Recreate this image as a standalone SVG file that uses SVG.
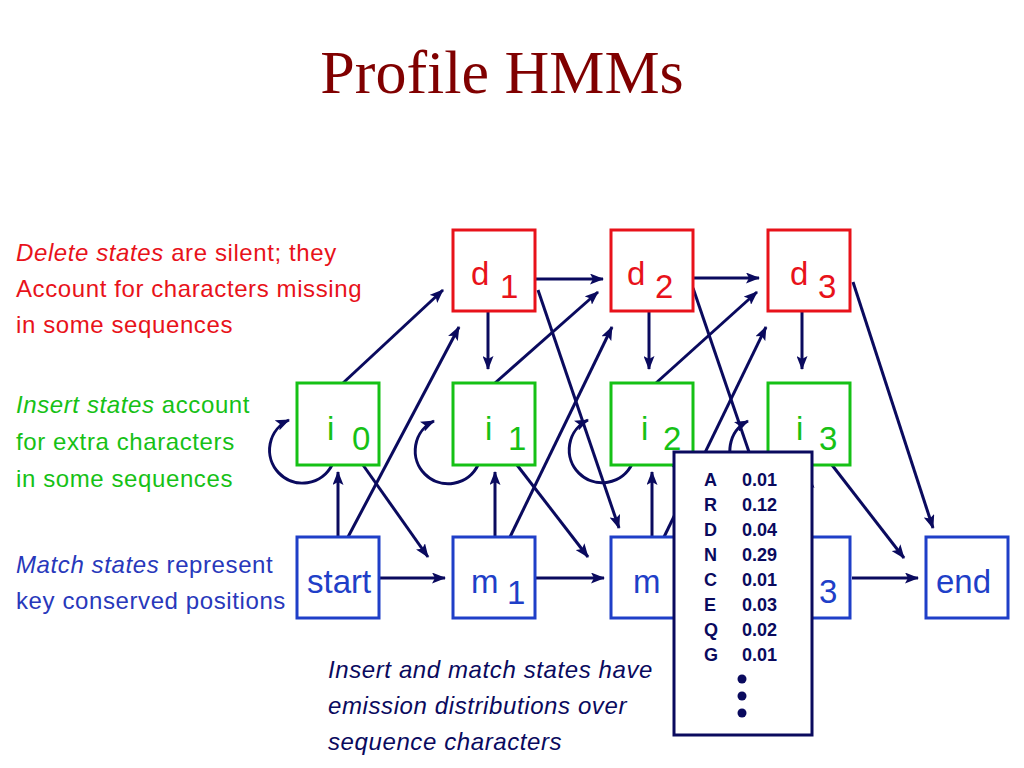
<svg xmlns="http://www.w3.org/2000/svg" width="1024" height="768" viewBox="0 0 1024 768">
<style>
  .t { font-family: "Liberation Sans", Arial, sans-serif; }
  .side { font-size: 24px; letter-spacing: 0.6px; }
  .red { fill: #e8121a; }
  .green { fill: #16c116; }
  .blue { fill: #2838bb; }
  .nb { fill: #1f3fc8; }
  .dbox { fill: #ffffff; stroke: #e8121a; stroke-width: 3; }
  .ibox { fill: #ffffff; stroke: #16c116; stroke-width: 3; }
  .mbox { fill: #ffffff; stroke: #1f3fc8; stroke-width: 3; }
  .lbl { font-size: 33px; }
  .con { stroke: #0a0a5e; stroke-width: 3; fill: none; marker-end: url(#ah); }
  .em { font-size: 18px; font-weight: bold; fill: #0a0a5e; }
</style>
<defs>
  <marker id="ah" markerUnits="userSpaceOnUse" viewBox="0 0 14 11" markerWidth="14" markerHeight="11" refX="13" refY="5.5" orient="auto">
    <path d="M0,0 L14,5.5 L0,11 L3,5.5 z" fill="#0a0a5e"/>
  </marker>
</defs>
<rect width="1024" height="768" fill="#ffffff"/>

<text x="502" y="93" text-anchor="middle" font-family="Liberation Serif, 'Times New Roman', serif" font-size="62" fill="#800000">Profile HMMs</text>

<g id="notes" class="t side">
  <text x="16" y="261" class="red"><tspan font-style="italic">Delete states</tspan> are silent; they</text>
  <text x="16" y="297" class="red">Account for characters missing</text>
  <text x="16" y="333" class="red">in some sequences</text>
  <text x="16" y="413" class="green"><tspan font-style="italic">Insert states</tspan> account</text>
  <text x="16" y="450" class="green">for extra characters</text>
  <text x="16" y="487" class="green">in some sequences</text>
  <text x="16" y="573" class="blue"><tspan font-style="italic">Match states</tspan> represent</text>
  <text x="16" y="609" class="blue">key conserved positions</text>
</g>

<g id="connectors">
  <line class="con" x1="378" y1="578" x2="445" y2="578"/>
  <line class="con" x1="536" y1="578" x2="604" y2="578"/>
  <line class="con" x1="852" y1="578" x2="918" y2="578"/>
  <line class="con" x1="536" y1="279" x2="603" y2="279"/>
  <line class="con" x1="693" y1="278" x2="759" y2="278"/>
  <line class="con" x1="488" y1="311" x2="488" y2="369"/>
  <line class="con" x1="649" y1="311" x2="649" y2="369"/>
  <line class="con" x1="802" y1="311" x2="802" y2="369"/>
  <line class="con" x1="338" y1="537" x2="338" y2="472"/>
  <line class="con" x1="495" y1="537" x2="495" y2="472"/>
  <line class="con" x1="652" y1="537" x2="652" y2="472"/>
  <line class="con" x1="809" y1="537" x2="809" y2="475"/>
  <line class="con" x1="343" y1="383" x2="443" y2="290"/>
  <line class="con" x1="348" y1="537" x2="459" y2="327"/>
  <line class="con" x1="363" y1="465" x2="428" y2="557"/>
  <line class="con" x1="495" y1="383" x2="598" y2="292"/>
  <line class="con" x1="510" y1="537" x2="612" y2="327"/>
  <line class="con" x1="538" y1="290" x2="619" y2="528"/>
  <line class="con" x1="517" y1="465" x2="588" y2="557"/>
  <line class="con" x1="656" y1="383" x2="757" y2="292"/>
  <line class="con" x1="664" y1="537" x2="766" y2="327"/>
  <line class="con" x1="693" y1="288" x2="775" y2="528"/>
  <line class="con" x1="673" y1="465" x2="745" y2="557"/>
  <line class="con" x1="853" y1="282" x2="933" y2="528"/>
  <line class="con" x1="832" y1="465" x2="904" y2="558"/>
  <path class="con" d="M332,465 A33,33 0 1 1 289,420"/>
  <path class="con" d="M478,465 A33,33 0 1 1 434,421"/>
  <path class="con" d="M632,464 A33,33 0 1 1 588,420"/>
  <path class="con" d="M792,466 A33,33 0 1 1 748,421"/>
</g>

<g id="d1"><rect class="dbox" x="453" y="230" width="82" height="81"/><text class="t lbl red" x="471" y="285">d</text><text class="t lbl red" x="500" y="298">1</text></g>
<g id="d2"><rect class="dbox" x="611" y="230" width="82" height="81"/><text class="t lbl red" x="627" y="285">d</text><text class="t lbl red" x="655" y="298">2</text></g>
<g id="d3"><rect class="dbox" x="768" y="230" width="82" height="81"/><text class="t lbl red" x="790" y="285">d</text><text class="t lbl red" x="818" y="298">3</text></g>

<g id="i0"><rect class="ibox" x="297" y="383" width="82" height="82"/><text class="t lbl green" x="327" y="440">i</text><text class="t lbl green" x="352" y="450">0</text></g>
<g id="i1"><rect class="ibox" x="453" y="383" width="82" height="82"/><text class="t lbl green" x="485" y="440">i</text><text class="t lbl green" x="508" y="450">1</text></g>
<g id="i2"><rect class="ibox" x="611" y="383" width="82" height="82"/><text class="t lbl green" x="641" y="440">i</text><text class="t lbl green" x="663" y="450">2</text></g>
<g id="i3"><rect class="ibox" x="768" y="383" width="82" height="82"/><text class="t lbl green" x="796" y="440">i</text><text class="t lbl green" x="819" y="450">3</text></g>

<g id="start"><rect class="mbox" x="297" y="537" width="82" height="81"/><text class="t lbl nb" x="307" y="593">start</text></g>
<g id="m1"><rect class="mbox" x="453" y="537" width="82" height="81"/><text class="t lbl nb" x="471" y="593">m</text><text class="t lbl nb" x="507" y="604">1</text></g>
<g id="m2"><rect class="mbox" x="611" y="537" width="82" height="81"/><text class="t lbl nb" x="633" y="593">m</text></g>
<g id="m3"><rect class="mbox" x="768" y="537" width="82" height="81"/><text class="t lbl nb" x="819" y="603">3</text></g>
<g id="end"><rect class="mbox" x="926" y="537" width="82" height="81"/><text class="t lbl nb" x="936" y="593">end</text></g>

<g id="emission">
  <rect x="674" y="452" width="138" height="283" fill="#ffffff" stroke="#0a0a5e" stroke-width="3"/>
  <g class="t em">
    <text x="704" y="486">A</text><text x="742" y="486">0.01</text>
    <text x="704" y="511">R</text><text x="742" y="511">0.12</text>
    <text x="704" y="536">D</text><text x="742" y="536">0.04</text>
    <text x="704" y="561">N</text><text x="742" y="561">0.29</text>
    <text x="704" y="586">C</text><text x="742" y="586">0.01</text>
    <text x="704" y="611">E</text><text x="742" y="611">0.03</text>
    <text x="704" y="636">Q</text><text x="742" y="636">0.02</text>
    <text x="704" y="661">G</text><text x="742" y="661">0.01</text>
  </g>
  <circle cx="742" cy="679" r="4.5" fill="#0a0a5e"/>
  <circle cx="742" cy="696" r="4.5" fill="#0a0a5e"/>
  <circle cx="742" cy="713" r="4.5" fill="#0a0a5e"/>
</g>

<g id="caption" class="t side" font-style="italic" fill="#0a0a5e">
  <text x="328" y="678">Insert and match states have</text>
  <text x="328" y="714">emission distributions over</text>
  <text x="328" y="750">sequence characters</text>
</g>
</svg>
